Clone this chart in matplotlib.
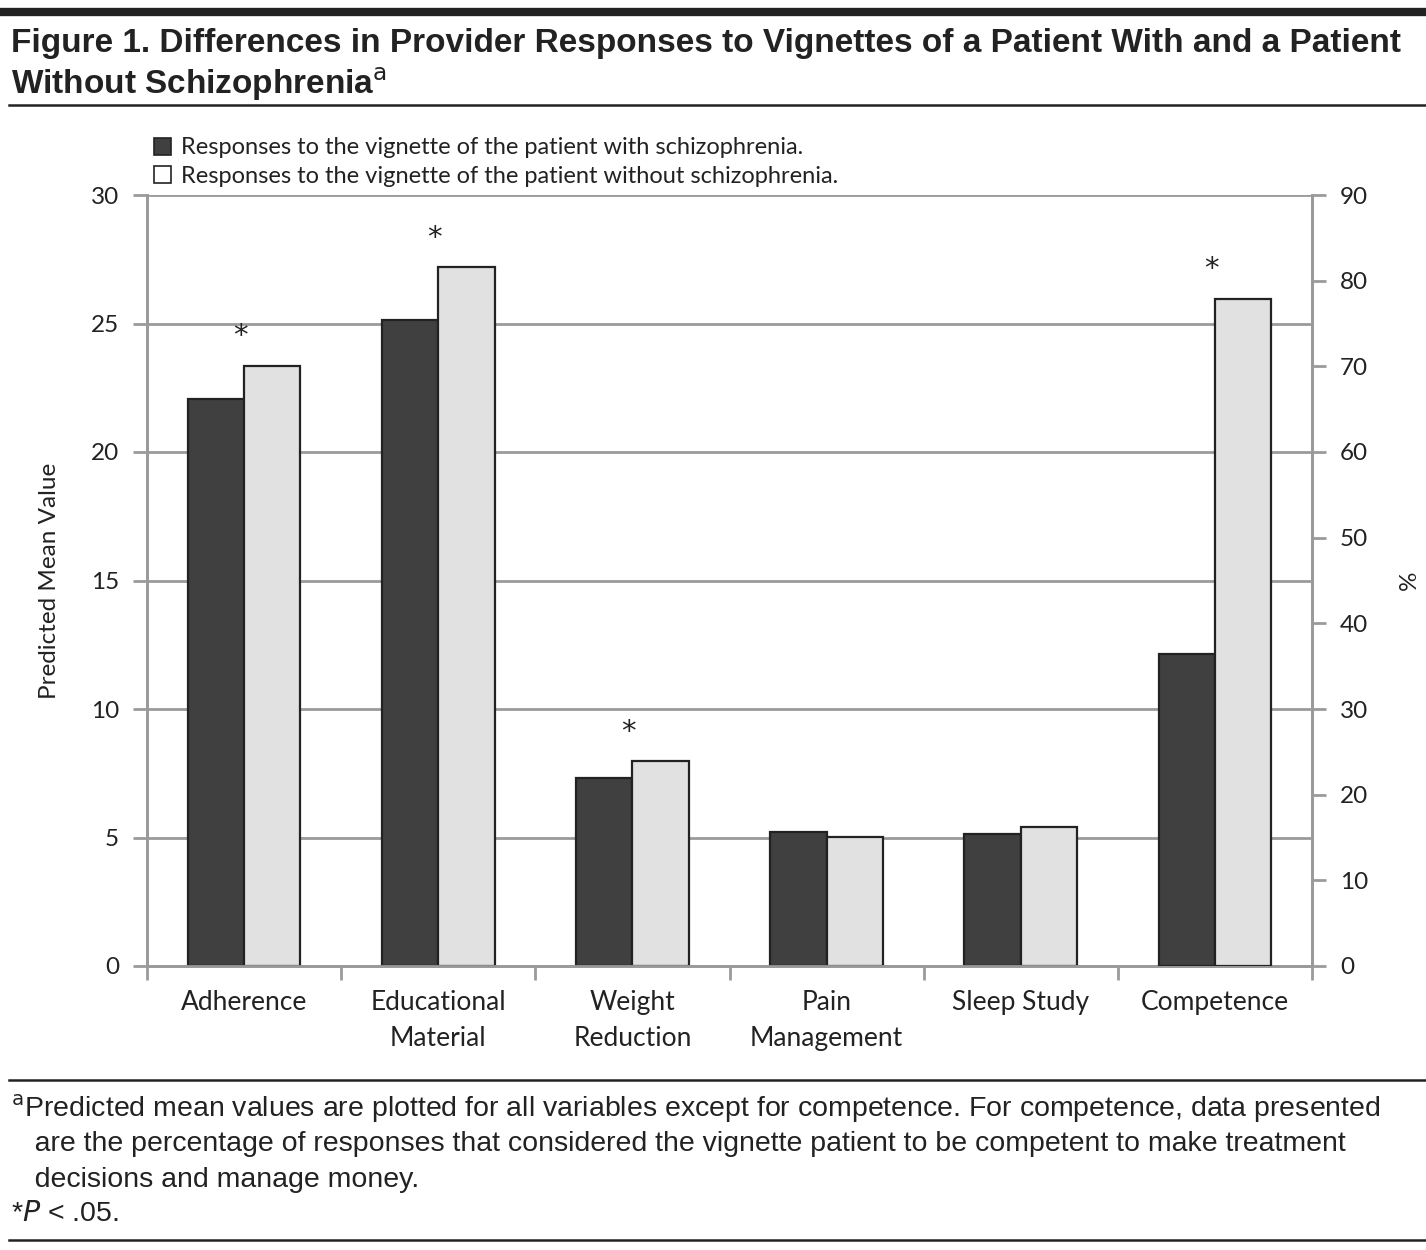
import matplotlib.pyplot as plt
from matplotlib.patches import Patch
from matplotlib.lines import Line2D
import numpy as np

categories = ["Adherence", "Educational\nMaterial", "Weight\nReduction",
              "Pain\nManagement", "Sleep Study", "Competence"]
# predicted mean values (left axis) for the first five, % for competence (right axis)
with_schiz = [22.05, 25.15, 7.3, 5.2, 5.12]
without_schiz = [23.35, 27.2, 7.97, 5.02, 5.4]
competence_pct = [36.4, 77.9]
significant = [True, True, True, False, False, True]

body = ["Lato", "DejaVu Sans"]
narrow = ["Liberation Sans", "DejaVu Sans"]
plt.rcParams["font.family"] = body

dark = "#404040"
light = "#e1e1e1"
edge = "#222222"
grid = "#9a9a9a"

fig = plt.figure(figsize=(14.26, 12.5), dpi=100)
ax = fig.add_axes([0.1031, 0.2272, 0.8170, 0.6168])
ax2 = ax.twinx()

w = 0.29
x = np.arange(5)
ax.bar(x - w / 2, with_schiz, w, color=dark, edgecolor=edge, linewidth=1.6, zorder=3)
ax.bar(x + w / 2, without_schiz, w, color=light, edgecolor=edge, linewidth=1.6, zorder=3)
ax2.bar([5 - w / 2], [competence_pct[0]], w, color=dark, edgecolor=edge, linewidth=1.6, zorder=3)
ax2.bar([5 + w / 2], [competence_pct[1]], w, color=light, edgecolor=edge, linewidth=1.6, zorder=3)

ax.set_xlim(-0.5, 5.5)
ax.set_ylim(0, 30)
ax2.set_ylim(0, 90)
ax.set_yticks(range(0, 31, 5))
ax2.set_yticks(range(0, 91, 10))
ax.yaxis.grid(True, color=grid, linewidth=2, zorder=0)
ax.set_axisbelow(True)

# asterisks
tops = without_schiz + [competence_pct[1] / 3]
for i, s in enumerate(significant):
    if s:
        ax.text(i - 0.02, tops[i] + 0.6, "*", ha="center", va="bottom", fontsize=21,
                family="DejaVu Sans", color="#222222", zorder=4)

ax.set_xticks([-0.5, 0.5, 1.5, 2.5, 3.5, 4.5, 5.5])
ax.set_xticklabels([])
ax.tick_params(axis="x", length=10, width=2, color=grid, direction="out")
for i, c in enumerate(categories):
    ax.text(i, -0.95, c, ha="center", va="top", fontsize=19, color="#222222",
            linespacing=1.55)

for a in (ax, ax2):
    a.spines["top"].set_visible(False)
    for sp in ("left", "right", "bottom"):
        a.spines[sp].set_color(grid)
        a.spines[sp].set_linewidth(2)
ax.tick_params(axis="y", length=10, width=2, color=grid, labelsize=17.5,
               labelcolor="#222222", pad=10)
ax2.tick_params(axis="y", length=10, width=2, color=grid, labelsize=17.5,
                labelcolor="#222222", pad=10)

ax.set_ylabel("Predicted Mean Value", fontsize=17.5, color="#222222", labelpad=22)
ax2.set_ylabel("%", fontsize=17.5, color="#222222", labelpad=22)

handles = [Patch(facecolor=dark, edgecolor=edge, linewidth=1.2),
           Patch(facecolor="white", edgecolor=edge, linewidth=1.2)]
labels = ["Responses to the vignette of the patient with schizophrenia.",
          "Responses to the vignette of the patient without schizophrenia."]
fig.legend(handles, labels, loc="upper left", bbox_to_anchor=(0.093, 0.907),
           frameon=False, fontsize=17, handlelength=0.72, handleheight=0.72,
           handletextpad=0.45, labelspacing=0.32, labelcolor="#222222")

# rules and texts
fig.add_artist(Line2D([0, 1], [0.9905, 0.9905], color="#222222", linewidth=6))
fig.add_artist(Line2D([0.006, 1], [0.916, 0.916], color="#222222", linewidth=1.8))
fig.add_artist(Line2D([0.006, 1], [0.136, 0.136], color="#222222", linewidth=1.8))
fig.add_artist(Line2D([0.006, 1], [0.008, 0.008], color="#222222", linewidth=1.8))

fig.text(0.008, 0.965, "Figure 1. Differences in Provider Responses to Vignettes of a Patient With and a Patient",
         fontsize=24, fontweight="bold", family=narrow, va="center", color="#222222")
fig.text(0.008, 0.933, r"Without Schizophrenia$^{\mathrm{a}}$",
         fontsize=24, fontweight="bold", family=narrow, va="center", color="#222222")

foot = [r"$^{\mathrm{a}}$Predicted mean values are plotted for all variables except for competence. For competence, data presented",
        "   are the percentage of responses that considered the vignette patient to be competent to make treatment",
        "   decisions and manage money.",
        r"*$P$ < .05."]
ys = [0.113, 0.085, 0.056, 0.029]
for t, yy in zip(foot, ys):
    fig.text(0.008, yy, t, fontsize=20.5, family=narrow, va="center", color="#222222")

fig.savefig("out.png", dpi=100)
